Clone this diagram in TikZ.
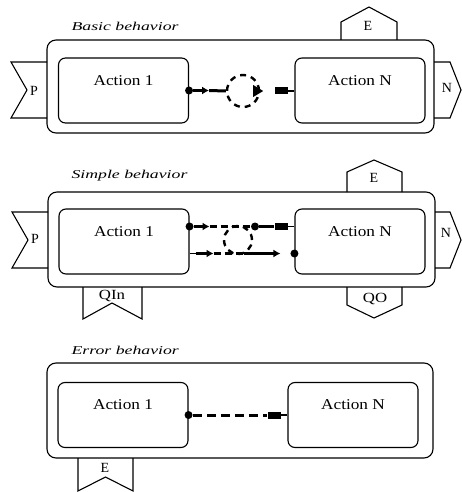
\documentclass[tikz,border=0pt]{standalone}
\usepackage{fontspec}
\setmainfont{Liberation Serif}
\usepackage{graphicx}
\usetikzlibrary{arrows.meta,calc}

\newcommand{\widetxt}[2][1.35]{\scalebox{#1}[1]{#2}}

\tikzset{
  outerbox/.style={draw, line width=1.1pt, rounded corners=9pt, inner sep=0},
  act/.style={draw, line width=1.1pt, rounded corners=7pt, inner sep=0,
    minimum width=130, minimum height=65,
    label={[anchor=center, yshift=-23pt, font=\fontsize{15}{17}\selectfont]north:\widetxt[1.15]{#1}}},
  flag/.style={draw, line width=1.1pt},
  tag/.style={font=\fontsize{14}{16}\selectfont},
  ttl/.style={anchor=west, font=\fontsize{12}{14}\selectfont\itshape},
  link/.style={line width=3pt},
  ring/.style={circle, draw, line width=2.4pt, dash pattern=on 6pt off 5pt, inner sep=0},
  pin/.style={circle, fill, inner sep=0, minimum size=8pt},
  blk/.style={fill, inner sep=0, minimum width=13pt, minimum height=7pt}
}

\begin{document}
\begin{tikzpicture}[x=1pt,y=-1pt]
\useasboundingbox (0,0) rectangle (462,492);

% basic behavior
\node[ttl] (t1) at (68,26) {\widetxt[1.48]{Basic behavior}};
\node[outerbox, minimum width=387, minimum height=93] (o1) at (240.5,86.5) {};
\node[act=Action 1] (a1) at (123.5,90.5) {};
\node[act=Action N] (n1) at (360,90.5) {};
\draw[flag] (47,62) -- (11,62) -- (27,90) -- (11,118) -- (47,118);
\draw[flag] (434,62) -- (450,62) -- (461,90) -- (450,118) -- (434,118);
\draw[flag] (341,40) -- (341,22) -- (369,7) -- (397,22) -- (397,40);
\node[tag] (p1) at (34,91) {P};
\node[tag] (e1) at (368,26) {E};
\node[tag] (x1) at (447,88) {N};
\node[ring, minimum size=32pt] (r1) at (243,91) {};
\node[pin] (d1) at (a1.east) {};
\draw[link,-{Latex[length=7pt,width=8pt]}] (d1) -- ++(20,0) coordinate (m1);
\draw[link] (m1) -- (r1.west);
\fill ($(r1.east)+(3,0)$) -- ++(-10,-6) -- ++(0,12) -- cycle;
\node[blk] (s1) at (281,91) {};
\draw[line width=1.1pt] (s1) -- (s1 -| n1.west);

% simple behavior
\node[ttl] (t2) at (68,176) {\widetxt[1.48]{Simple behavior}};
\node[outerbox, minimum width=387, minimum height=95] (o2) at (241.5,239.5) {};
\node[act=Action 1] (a2) at (124,241.5) {};
\node[act=Action N] (n2) at (360,241.5) {};
\draw[flag] (48,212) -- (12,212) -- (28,240) -- (12,268) -- (48,268);
\draw[flag] (435,212) -- (450,212) -- (461,240) -- (450,268) -- (435,268);
\draw[flag] (347,192) -- (347,172) -- (374,160) -- (402,172) -- (402,192);
\draw[flag] (83,287) -- (83,319) -- (112,303) -- (142,319) -- (142,287);
\draw[flag] (347,287) -- (347,305) -- (374,318) -- (402,305) -- (402,287);
\node[tag] (p2) at (35,239) {P};
\node[tag] (e2) at (374,178) {E};
\node[tag] (x2) at (446,233) {N};
\node[tag] (q2) at (112,296) {\widetxt[1.2]{QIn}};
\node[tag] (o2) at (375,299) {\widetxt[1.2]{QO}};
\node[ring, minimum size=28pt] (r2) at (238,240) {};
% upper line
\node[pin] (d2) at ($(a2.east)+(0,-15)$) {};
\draw[link,-{Latex[length=7pt,width=8pt]}] (d2) -- ++(20,0) coordinate (m2);
\node[pin] (d3) at (255,226.5) {};
\draw[link, dash pattern=on 7pt off 4pt] (m2) -- (d3);
\node[blk] (s2) at (281,226.5) {};
\draw[link] (d3) -- (s2);
\draw[line width=1.1pt] (s2) -- (s2 -| n2.west);
% lower line
\coordinate (b2) at ($(a2.east)+(0,12)$);
\node[pin] (d4) at (n2.west |- b2) {};
\draw[line width=1.1pt] (b2) -- ++(8,0);
\draw[link,-{Latex[length=7pt,width=8pt]}] ($(b2)+(6,0)$) -- ++(18,0) coordinate (m3);
\draw[link, dash pattern=on 7pt off 4pt] (m3) -- ++(30,0) coordinate (m4);
\draw[link,-{Latex[length=7pt,width=8pt]}] (m4) -- ($(d4)+(-14,0)$);

% error behavior
\node[ttl] (t3) at (68,350) {\widetxt[1.48]{Error behavior}};
\node[outerbox, minimum width=386, minimum height=95] (o3) at (240,410.5) {};
\node[act=Action 1] (a3) at (123,415) {};
\node[act=Action N] (n3) at (353,415) {};
\draw[flag] (78,458) -- (78,491) -- (105.5,477) -- (133,491) -- (133,458);
\node[tag] (e3) at (105,468) {E};
\node[pin] (d5) at (a3.east) {};
\node[blk] (s3) at (274,415) {};
\draw[link, dash pattern=on 9pt off 5pt] (d5) -- (s3);
\draw[line width=1.1pt] (s3) -- (n3.west);
\end{tikzpicture}
\end{document}
